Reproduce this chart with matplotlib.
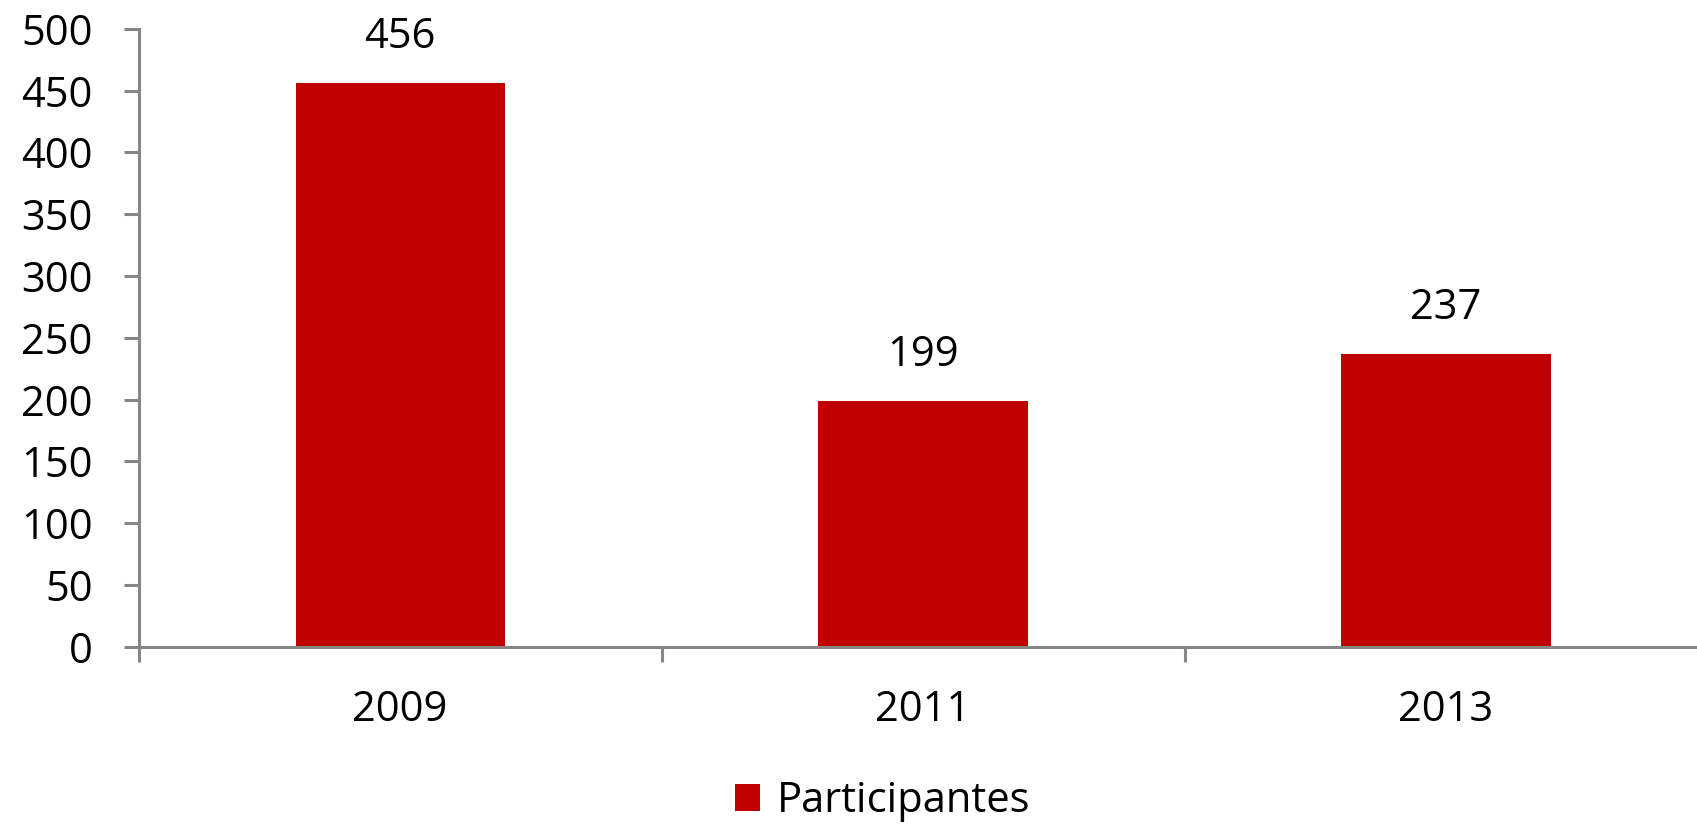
import matplotlib.pyplot as plt
import numpy as np

# data
years = ["2009", "2011", "2013"]
participantes = [456, 199, 237]
y_ticks = [0, 50, 100, 150, 200, 250, 300, 350, 400, 450, 500]

bar_color = "#C00000"
axis_color = "#868686"
plt.rcParams['font.family'] = ['Open Sans', 'DejaVu Sans']
fs = 30

fig = plt.figure(figsize=(16.97, 8.27), dpi=100)
# axes runs off the right edge like in the original
ax = fig.add_axes([0.0817, 0.2177, 0.9245, 0.7476])

x = np.arange(len(years))
bars = ax.bar(x, participantes, width=0.4, color=bar_color, label="Participantes", zorder=2)

# value labels above bars
for xi, v in zip(x, participantes):
    ax.annotate(str(v), (xi, v), xytext=(0, 33), textcoords="offset points",
                ha="center", va="center", fontsize=fs, color="black")

ax.set_xlim(-0.5, len(years) - 0.5)
ax.set_ylim(0, 500)
ax.set_yticks(y_ticks)
ax.set_xticks(x)
ax.set_xticklabels(years)
ax.set_xticks(np.arange(len(years) + 1) - 0.5, minor=True)

for side in ["top", "right"]:
    ax.spines[side].set_visible(False)
for side in ["left", "bottom"]:
    ax.spines[side].set_color(axis_color)
    ax.spines[side].set_linewidth(2.2)

ax.tick_params(axis="y", direction="out", length=11, width=2.2, color=axis_color,
               labelsize=fs, pad=22)
ax.tick_params(axis="x", which="major", length=0, labelsize=fs, pad=30)
ax.tick_params(axis="x", which="minor", direction="out", length=11, width=2.2, color=axis_color)

fig.legend(handles=[bars], labels=["Participantes"], loc="center",
           bbox_to_anchor=(0.52, 0.031), frameon=False, fontsize=fs,
           handlelength=0.6, handleheight=0.6, handletextpad=0.4)

fig.savefig("out.png", dpi=100)
